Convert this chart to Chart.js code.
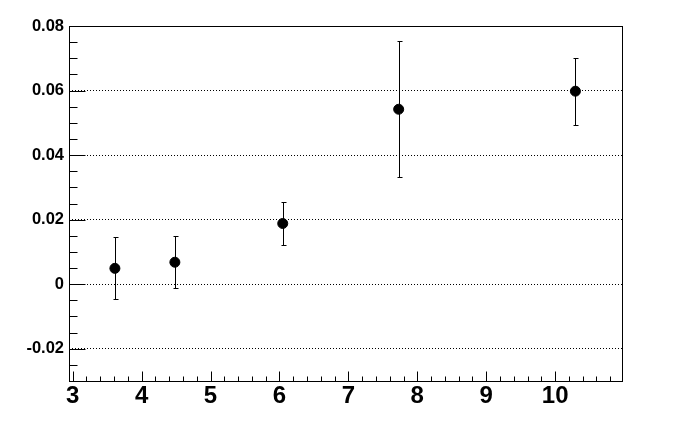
<!DOCTYPE html>
<html>
<head>
<meta charset="utf-8">
<script src="https://cdn.jsdelivr.net/npm/chart.js@4.4.0/dist/chart.umd.min.js"></script>
<style>
  html, body { margin: 0; padding: 0; background: #fff; }
  #wrap { width: 692px; height: 444px; }
</style>
</head>
<body>
<div id="wrap"><canvas id="myChart" width="692" height="444"></canvas></div>
<script>
// data
const xValues = [3.613, 4.483, 6.048, 7.73, 10.294];
const yValues = [0.0049, 0.0068, 0.0188, 0.0542, 0.0598];
const yErrors = [0.0096, 0.0081, 0.0066, 0.0211, 0.0104];
const xTicks = [3, 4, 5, 6, 7, 8, 9, 10];
const yTicks = [-0.02, 0, 0.02, 0.04, 0.06, 0.08];
const yTickLabels = ['-0.02', '0', '0.02', '0.04', '0.06', '0.08'];

const X_MIN = 2.947, X_MAX = 10.97;
const Y_MIN = -0.03, Y_MAX = 0.08;

const points = xValues.map((x, i) => ({ x: x, y: yValues[i] }));

// frame, ROOT style ticks and error bars
const rootStyle = {
    id: 'rootStyle',
    beforeDatasetsDraw(chart) {
        const ctx = chart.ctx;
        const ys = chart.scales.y;
        ctx.save();
        ctx.strokeStyle = '#000';
        ctx.lineWidth = 1;
        const meta = chart.getDatasetMeta(0);
        meta.data.forEach((pt, i) => {
            const px = Math.round(pt.x) + 0.5;
            const top = Math.round(ys.getPixelForValue(yValues[i] + yErrors[i])) + 0.5;
            const bot = Math.round(ys.getPixelForValue(yValues[i] - yErrors[i])) + 0.5;
            ctx.beginPath();
            ctx.moveTo(px, top);
            ctx.lineTo(px, bot);
            ctx.moveTo(px - 2, top);
            ctx.lineTo(px + 3, top);
            ctx.moveTo(px - 2, bot);
            ctx.lineTo(px + 3, bot);
            ctx.stroke();
        });
        ctx.restore();
    },
    afterDraw(chart) {
        const ctx = chart.ctx;
        const xs = chart.scales.x, ys = chart.scales.y;
        const a = chart.chartArea;
        const L = Math.round(a.left) + 0.5, R = Math.round(a.right) + 0.5;
        const T = Math.round(a.top) + 0.5, B = Math.round(a.bottom) + 0.5;
        ctx.save();
        ctx.strokeStyle = '#000';
        ctx.lineWidth = 1;
        ctx.strokeRect(L, T, R - L, B - T);
        ctx.beginPath();
        // y ticks: major every 0.02, minor every 0.005
        for (let v = Y_MIN; v <= Y_MAX + 1e-9; v += 0.005) {
            const r = Math.round(v * 1000) / 1000;
            const major = Math.abs(r / 0.02 - Math.round(r / 0.02)) < 1e-6;
            const py = Math.round(ys.getPixelForValue(r)) + 0.5;
            ctx.moveTo(L, py);
            ctx.lineTo(L + (major ? 16 : 8), py);
        }
        // x ticks: major every 1, minor every 0.2
        for (let v = 3; v <= X_MAX + 1e-9; v += 0.2) {
            const r = Math.round(v * 10) / 10;
            const major = Math.abs(r - Math.round(r)) < 1e-6;
            const px = Math.round(xs.getPixelForValue(r)) + 0.5;
            ctx.moveTo(px, B);
            ctx.lineTo(px, B - (major ? 10 : 5));
        }
        ctx.stroke();
        ctx.restore();
    }
};

const ctx = document.getElementById('myChart').getContext('2d');
const myChart = new Chart(ctx, {
    type: 'scatter',
    data: {
        datasets: [{
            data: points,
            backgroundColor: '#000',
            borderColor: '#000',
            pointRadius: 5,
            pointHoverRadius: 5
        }]
    },
    options: {
        responsive: false,
        animation: false,
        events: [],
        layout: { padding: { top: 26, right: 70, left: 0, bottom: 0 } },
        plugins: { legend: { display: false }, tooltip: { enabled: false } },
        scales: {
            x: {
                type: 'linear',
                min: X_MIN,
                max: X_MAX,
                afterBuildTicks: s => { s.ticks = xTicks.map(v => ({ value: v })); },
                afterFit: s => { s.height = 63; },
                border: { display: false },
                grid: { display: false, drawTicks: false },
                ticks: {
                    color: '#000',
                    padding: 1,
                    maxRotation: 0,
                    autoSkip: false,
                    font: { family: 'Liberation Sans', size: 24, weight: 'bold' },
                    callback: v => String(v)
                }
            },
            y: {
                type: 'linear',
                min: Y_MIN,
                max: Y_MAX,
                afterBuildTicks: s => { s.ticks = yTicks.map(v => ({ value: v })); },
                afterFit: s => { s.width = 69; },
                border: { display: false, dash: [1, 2] },
                grid: {
                    drawTicks: false,
                    color: c => (c.tick && c.tick.value >= 0.079) ? 'rgba(0,0,0,0)' : '#000',
                    lineWidth: 1
                },
                ticks: {
                    color: '#000',
                    padding: 5,
                    autoSkip: false,
                    font: { family: 'Liberation Sans', size: 16.5, weight: 'bold' },
                    callback: (v, i) => yTickLabels[i]
                }
            }
        }
    },
    plugins: [rootStyle]
});
</script>
</body>
</html>
